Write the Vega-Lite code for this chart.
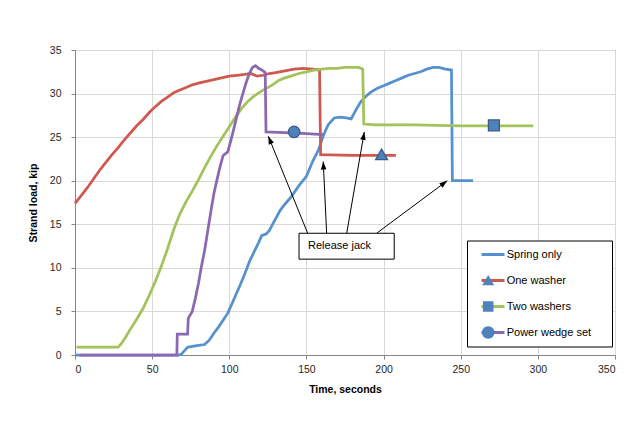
{
  "$schema": "https://vega.github.io/schema/vega-lite/v6.json",
  "width": 540,
  "height": 305,
  "autosize": {"type": "none"},
  "padding": {"left": 75, "top": 50, "right": 11, "bottom": 69},
  "background": "white",
  "config": {
    "font": "Liberation Sans",
    "view": {"stroke": "#595959", "strokeWidth": 1},
    "axis": {
      "labelFont": "Liberation Sans",
      "labelFontSize": 10.5,
      "labelColor": "#262626",
      "titleFont": "Liberation Sans",
      "titleFontSize": 10.5,
      "titleFontWeight": "bold",
      "titleColor": "#000000",
      "gridColor": "#d9d9d9",
      "gridWidth": 1,
      "domainColor": "#868686",
      "tickColor": "#868686",
      "tickSize": 4
    },
    "axisX": {"titlePadding": 10, "labelPadding": 5},
    "axisY": {"titlePadding": 11, "labelPadding": 10}
  },
  "datasets": {
    "curves": [
      {"series": "Spring only", "t": 0, "load": 0},
      {"series": "Spring only", "t": 67, "load": 0},
      {"series": "Spring only", "t": 69, "load": 0.1},
      {"series": "Spring only", "t": 71, "load": 0.5},
      {"series": "Spring only", "t": 73, "load": 0.9},
      {"series": "Spring only", "t": 76, "load": 1.0},
      {"series": "Spring only", "t": 80, "load": 1.1},
      {"series": "Spring only", "t": 84, "load": 1.2},
      {"series": "Spring only", "t": 87, "load": 1.7},
      {"series": "Spring only", "t": 90, "load": 2.5},
      {"series": "Spring only", "t": 93, "load": 3.2},
      {"series": "Spring only", "t": 96, "load": 4.0},
      {"series": "Spring only", "t": 99, "load": 4.8},
      {"series": "Spring only", "t": 101, "load": 5.6},
      {"series": "Spring only", "t": 104, "load": 6.8},
      {"series": "Spring only", "t": 107, "load": 8.0},
      {"series": "Spring only", "t": 110, "load": 9.3},
      {"series": "Spring only", "t": 113, "load": 10.7},
      {"series": "Spring only", "t": 116, "load": 11.8},
      {"series": "Spring only", "t": 119, "load": 12.9},
      {"series": "Spring only", "t": 121, "load": 13.7},
      {"series": "Spring only", "t": 124, "load": 13.9},
      {"series": "Spring only", "t": 126, "load": 14.3},
      {"series": "Spring only", "t": 129, "load": 15.3},
      {"series": "Spring only", "t": 133, "load": 16.6},
      {"series": "Spring only", "t": 136, "load": 17.3},
      {"series": "Spring only", "t": 140, "load": 18.1},
      {"series": "Spring only", "t": 145, "load": 19.4},
      {"series": "Spring only", "t": 150, "load": 20.5},
      {"series": "Spring only", "t": 154, "load": 22.2},
      {"series": "Spring only", "t": 158, "load": 23.6},
      {"series": "Spring only", "t": 161, "load": 25.2},
      {"series": "Spring only", "t": 164, "load": 26.4},
      {"series": "Spring only", "t": 168, "load": 27.2},
      {"series": "Spring only", "t": 172, "load": 27.3},
      {"series": "Spring only", "t": 176, "load": 27.2},
      {"series": "Spring only", "t": 179, "load": 27.1},
      {"series": "Spring only", "t": 182, "load": 28.1},
      {"series": "Spring only", "t": 185, "load": 29.0},
      {"series": "Spring only", "t": 188, "load": 29.6},
      {"series": "Spring only", "t": 192, "load": 30.2},
      {"series": "Spring only", "t": 196, "load": 30.6},
      {"series": "Spring only", "t": 200, "load": 30.9},
      {"series": "Spring only", "t": 204, "load": 31.2},
      {"series": "Spring only", "t": 208, "load": 31.5},
      {"series": "Spring only", "t": 212, "load": 31.8},
      {"series": "Spring only", "t": 216, "load": 32.1},
      {"series": "Spring only", "t": 220, "load": 32.3},
      {"series": "Spring only", "t": 224, "load": 32.5},
      {"series": "Spring only", "t": 228, "load": 32.8},
      {"series": "Spring only", "t": 232, "load": 33.0},
      {"series": "Spring only", "t": 236, "load": 33.0},
      {"series": "Spring only", "t": 240, "load": 32.8},
      {"series": "Spring only", "t": 244, "load": 32.7},
      {"series": "Spring only", "t": 244.6, "load": 20.0},
      {"series": "Spring only", "t": 258, "load": 20.0},
      {"series": "One washer", "t": 0, "load": 17.4},
      {"series": "One washer", "t": 4, "load": 18.3},
      {"series": "One washer", "t": 8, "load": 19.2},
      {"series": "One washer", "t": 12, "load": 20.2},
      {"series": "One washer", "t": 16, "load": 21.2},
      {"series": "One washer", "t": 20, "load": 22.1},
      {"series": "One washer", "t": 24, "load": 23.0},
      {"series": "One washer", "t": 28, "load": 23.8},
      {"series": "One washer", "t": 32, "load": 24.7},
      {"series": "One washer", "t": 36, "load": 25.5},
      {"series": "One washer", "t": 40, "load": 26.3},
      {"series": "One washer", "t": 44, "load": 27.0},
      {"series": "One washer", "t": 48, "load": 27.8},
      {"series": "One washer", "t": 52, "load": 28.5},
      {"series": "One washer", "t": 56, "load": 29.1},
      {"series": "One washer", "t": 60, "load": 29.6},
      {"series": "One washer", "t": 64, "load": 30.1},
      {"series": "One washer", "t": 68, "load": 30.4},
      {"series": "One washer", "t": 72, "load": 30.7},
      {"series": "One washer", "t": 76, "load": 31.0},
      {"series": "One washer", "t": 80, "load": 31.2},
      {"series": "One washer", "t": 85, "load": 31.4},
      {"series": "One washer", "t": 90, "load": 31.6},
      {"series": "One washer", "t": 95, "load": 31.8},
      {"series": "One washer", "t": 100, "load": 32.0},
      {"series": "One washer", "t": 105, "load": 32.1},
      {"series": "One washer", "t": 110, "load": 32.2},
      {"series": "One washer", "t": 114, "load": 32.3},
      {"series": "One washer", "t": 118, "load": 32.0},
      {"series": "One washer", "t": 122, "load": 32.1},
      {"series": "One washer", "t": 126, "load": 32.3},
      {"series": "One washer", "t": 130, "load": 32.4},
      {"series": "One washer", "t": 136, "load": 32.6},
      {"series": "One washer", "t": 142, "load": 32.8},
      {"series": "One washer", "t": 148, "load": 32.9},
      {"series": "One washer", "t": 154, "load": 32.8},
      {"series": "One washer", "t": 158.5, "load": 32.7},
      {"series": "One washer", "t": 159.2, "load": 23.0},
      {"series": "One washer", "t": 180, "load": 22.9},
      {"series": "One washer", "t": 208, "load": 22.9},
      {"series": "Two washers", "t": 1, "load": 0.9},
      {"series": "Two washers", "t": 28, "load": 0.9},
      {"series": "Two washers", "t": 30, "load": 1.3},
      {"series": "Two washers", "t": 33, "load": 2.1},
      {"series": "Two washers", "t": 36, "load": 3.0},
      {"series": "Two washers", "t": 40, "load": 4.1},
      {"series": "Two washers", "t": 44, "load": 5.3},
      {"series": "Two washers", "t": 48, "load": 6.8},
      {"series": "Two washers", "t": 52, "load": 8.4},
      {"series": "Two washers", "t": 56, "load": 10.2},
      {"series": "Two washers", "t": 60, "load": 12.2},
      {"series": "Two washers", "t": 64, "load": 14.4},
      {"series": "Two washers", "t": 68, "load": 16.2},
      {"series": "Two washers", "t": 72, "load": 17.6},
      {"series": "Two washers", "t": 76, "load": 18.8},
      {"series": "Two washers", "t": 80, "load": 20.1},
      {"series": "Two washers", "t": 84, "load": 21.5},
      {"series": "Two washers", "t": 88, "load": 22.8},
      {"series": "Two washers", "t": 92, "load": 24.0},
      {"series": "Two washers", "t": 96, "load": 25.1},
      {"series": "Two washers", "t": 100, "load": 26.2},
      {"series": "Two washers", "t": 104, "load": 27.3},
      {"series": "Two washers", "t": 108, "load": 28.3},
      {"series": "Two washers", "t": 112, "load": 29.1},
      {"series": "Two washers", "t": 116, "load": 29.7},
      {"series": "Two washers", "t": 120, "load": 30.2},
      {"series": "Two washers", "t": 124, "load": 30.6},
      {"series": "Two washers", "t": 128, "load": 31.0},
      {"series": "Two washers", "t": 132, "load": 31.5},
      {"series": "Two washers", "t": 136, "load": 31.8},
      {"series": "Two washers", "t": 140, "load": 32.0},
      {"series": "Two washers", "t": 145, "load": 32.3},
      {"series": "Two washers", "t": 150, "load": 32.5},
      {"series": "Two washers", "t": 155, "load": 32.7},
      {"series": "Two washers", "t": 160, "load": 32.8},
      {"series": "Two washers", "t": 165, "load": 32.9},
      {"series": "Two washers", "t": 170, "load": 32.9},
      {"series": "Two washers", "t": 175, "load": 33.0},
      {"series": "Two washers", "t": 180, "load": 33.0},
      {"series": "Two washers", "t": 184, "load": 33.0},
      {"series": "Two washers", "t": 186.5, "load": 32.8},
      {"series": "Two washers", "t": 187.2, "load": 26.5},
      {"series": "Two washers", "t": 195, "load": 26.4},
      {"series": "Two washers", "t": 220, "load": 26.4},
      {"series": "Two washers", "t": 250, "load": 26.3},
      {"series": "Two washers", "t": 297, "load": 26.3},
      {"series": "Power wedge set", "t": 3, "load": 0},
      {"series": "Power wedge set", "t": 66, "load": 0},
      {"series": "Power wedge set", "t": 66.3, "load": 2.4},
      {"series": "Power wedge set", "t": 73, "load": 2.4},
      {"series": "Power wedge set", "t": 73.4, "load": 4.2},
      {"series": "Power wedge set", "t": 76, "load": 5.0},
      {"series": "Power wedge set", "t": 78, "load": 6.5},
      {"series": "Power wedge set", "t": 80, "load": 8.2},
      {"series": "Power wedge set", "t": 82, "load": 10.2},
      {"series": "Power wedge set", "t": 84, "load": 12.0},
      {"series": "Power wedge set", "t": 86, "load": 14.2},
      {"series": "Power wedge set", "t": 88, "load": 16.4},
      {"series": "Power wedge set", "t": 90, "load": 18.5},
      {"series": "Power wedge set", "t": 92, "load": 20.1},
      {"series": "Power wedge set", "t": 94, "load": 21.6},
      {"series": "Power wedge set", "t": 96, "load": 22.9},
      {"series": "Power wedge set", "t": 99, "load": 23.3},
      {"series": "Power wedge set", "t": 101, "load": 24.6},
      {"series": "Power wedge set", "t": 103, "load": 26.0},
      {"series": "Power wedge set", "t": 105, "load": 27.5},
      {"series": "Power wedge set", "t": 107, "load": 28.9},
      {"series": "Power wedge set", "t": 109, "load": 30.1},
      {"series": "Power wedge set", "t": 111, "load": 31.3},
      {"series": "Power wedge set", "t": 113, "load": 32.3},
      {"series": "Power wedge set", "t": 115, "load": 33.0},
      {"series": "Power wedge set", "t": 117, "load": 33.2},
      {"series": "Power wedge set", "t": 119, "load": 32.9},
      {"series": "Power wedge set", "t": 122, "load": 32.6},
      {"series": "Power wedge set", "t": 123.3, "load": 32.4},
      {"series": "Power wedge set", "t": 123.8, "load": 25.6},
      {"series": "Power wedge set", "t": 140, "load": 25.5},
      {"series": "Power wedge set", "t": 150, "load": 25.4},
      {"series": "Power wedge set", "t": 161, "load": 25.3}
    ],
    "markers": [
      {"series": "One washer", "t": 198.7, "load": 23.0},
      {"series": "Two washers", "t": 271.5, "load": 26.35},
      {"series": "Power wedge set", "t": 142, "load": 25.6}
    ],
    "arrows": [
      {"xs": 150.8, "ys": 13.97, "xt": 125.3, "yt": 25.1},
      {"xs": 163.1, "ys": 13.97, "xt": 160.9, "yt": 22.2},
      {"xs": 176.1, "ys": 13.97, "xt": 187.5, "yt": 25.6},
      {"xs": 195.5, "ys": 13.97, "xt": 241.3, "yt": 20.0}
    ],
    "box": [
      {"x1": 145.2, "x2": 206.9, "y1": 11.0, "y2": 13.97, "ym": 12.5, "label": "Release jack"}
    ]
  },
  "layer": [
    {
      "data": {"name": "curves"},
      "mark": {"type": "line", "strokeWidth": 2.75},
      "encoding": {
        "x": {
          "field": "t", "type": "quantitative", "title": "Time, seconds",
          "scale": {"domain": [0, 350], "nice": false},
          "axis": {"values": [0, 50, 100, 150, 200, 250, 300, 350]}
        },
        "y": {
          "field": "load", "type": "quantitative", "title": "Strand load, kip",
          "scale": {"domain": [0, 35], "nice": false},
          "axis": {"values": [0, 5, 10, 15, 20, 25, 30, 35]}
        },
        "color": {
          "field": "series", "type": "nominal",
          "scale": {
            "domain": ["Spring only", "One washer", "Two washers", "Power wedge set"],
            "range": ["#5691cf", "#cf584f", "#a2c25a", "#8b68b0"]
          },
          "legend": {
            "orient": "none", "legendX": 392, "legendY": 190.5,
            "title": null, "padding": 1,
            "strokeColor": "#000000", "fillColor": "#ffffff",
            "symbolType": "stroke", "symbolSize": 529, "symbolStrokeWidth": 3,
            "symbolOffset": 12, "labelOffset": 105,
            "labelFont": "Liberation Sans", "labelFontSize": 11, "labelColor": "#000000",
            "rowPadding": 0, "clipHeight": 26,
            "labelExpr": "''"
          }
        }
      }
    },
    {
      "data": {"name": "markers"},
      "mark": {"type": "point", "filled": true, "fill": "#4f81bd", "stroke": "#385d8a", "strokeWidth": 1.25, "opacity": 1, "size": 100},
      "encoding": {
        "x": {"field": "t", "type": "quantitative", "title": "Time, seconds"},
        "y": {"field": "load", "type": "quantitative", "title": "Strand load, kip"},
        "shape": {
          "field": "series", "type": "nominal",
          "scale": {
            "domain": ["One washer", "Two washers", "Power wedge set"],
            "range": ["M-1.2,1L1.2,1L0,-1.1Z", "M-1.1,-1.1H1.1V1.1H-1.1Z", "M-1.15,0A1.15,1.15 0 1,0 1.15,0A1.15,1.15 0 1,0 -1.15,0Z"]
          },
          "legend": null
        }
      }
    },
    {
      "data": {"name": "arrows"},
      "mark": {"type": "rule", "color": "#000000", "strokeWidth": 1},
      "encoding": {
        "x": {"field": "xs", "type": "quantitative", "title": "Time, seconds"},
        "y": {"field": "ys", "type": "quantitative", "title": "Strand load, kip"},
        "x2": {"field": "xt"},
        "y2": {"field": "yt"}
      }
    },
    {
      "data": {"name": "arrows"},
      "mark": {"type": "point", "filled": true, "color": "#000000", "opacity": 1, "size": 150, "shape": "M0,0L-0.45,1.3L0.45,1.3Z"},
      "encoding": {
        "x": {"field": "xt", "type": "quantitative", "title": "Time, seconds"},
        "y": {"field": "yt", "type": "quantitative", "title": "Strand load, kip"},
        "angle": {"value": {"expr": "atan2(scale('x', datum.xt) - scale('x', datum.xs), scale('y', datum.ys) - scale('y', datum.yt)) * 180 / PI"}}
      }
    },
    {
      "data": {"name": "box"},
      "mark": {"type": "rect", "fill": "#ffffff", "stroke": "#000000", "strokeWidth": 1},
      "encoding": {
        "x": {"field": "x1", "type": "quantitative", "title": "Time, seconds"},
        "x2": {"field": "x2"},
        "y": {"field": "y1", "type": "quantitative", "title": "Strand load, kip"},
        "y2": {"field": "y2"}
      }
    },
    {
      "data": {"name": "box"},
      "mark": {"type": "text", "align": "left", "baseline": "middle", "dx": 9, "font": "Liberation Sans", "fontSize": 11, "color": "#000000"},
      "encoding": {
        "x": {"field": "x1", "type": "quantitative", "title": "Time, seconds"},
        "y": {"field": "ym", "type": "quantitative", "title": "Strand load, kip"},
        "text": {"field": "label"}
      }
    },
    {
      "data": {"name": "markers"},
      "transform": [{"filter": "false"}],
      "mark": {"type": "point", "filled": true, "fill": "#4f81bd", "stroke": "#385d8a", "strokeWidth": 1.25, "opacity": 1},
      "encoding": {
        "x": {"field": "t", "type": "quantitative", "title": "Time, seconds"},
        "y": {"field": "load", "type": "quantitative", "title": "Strand load, kip"},
        "shape": {
          "field": "series", "type": "nominal",
          "scale": {
            "domain": ["Spring only", "One washer", "Two washers", "Power wedge set", "none"],
            "range": ["M0,0", "M-0.9,0.4L0.1,0.4L-0.4,-0.45Z", "M-0.84,-0.44H0.04V0.44H-0.84Z", "M-0.92,0A0.5,0.5 0 1,0 0.12,0A0.5,0.5 0 1,0 -0.92,0Z", "M0,0"]
          },
          "legend": {
            "orient": "none", "legendX": 392, "legendY": 190.5,
            "title": null, "padding": 1,
            "values": ["Spring only", "One washer", "Two washers", "Power wedge set"],
            "symbolSize": 576, "symbolStrokeWidth": 1.25,
            "symbolFillColor": "#4f81bd", "symbolStrokeColor": "#385d8a",
            "symbolOffset": 12, "labelOffset": 0.7,
            "labelFont": "Liberation Sans", "labelFontSize": 11, "labelColor": "#000000",
            "rowPadding": 0, "clipHeight": 26
          }
        }
      }
    }
  ],
  "resolve": {"scale": {"shape": "independent"}}
}
